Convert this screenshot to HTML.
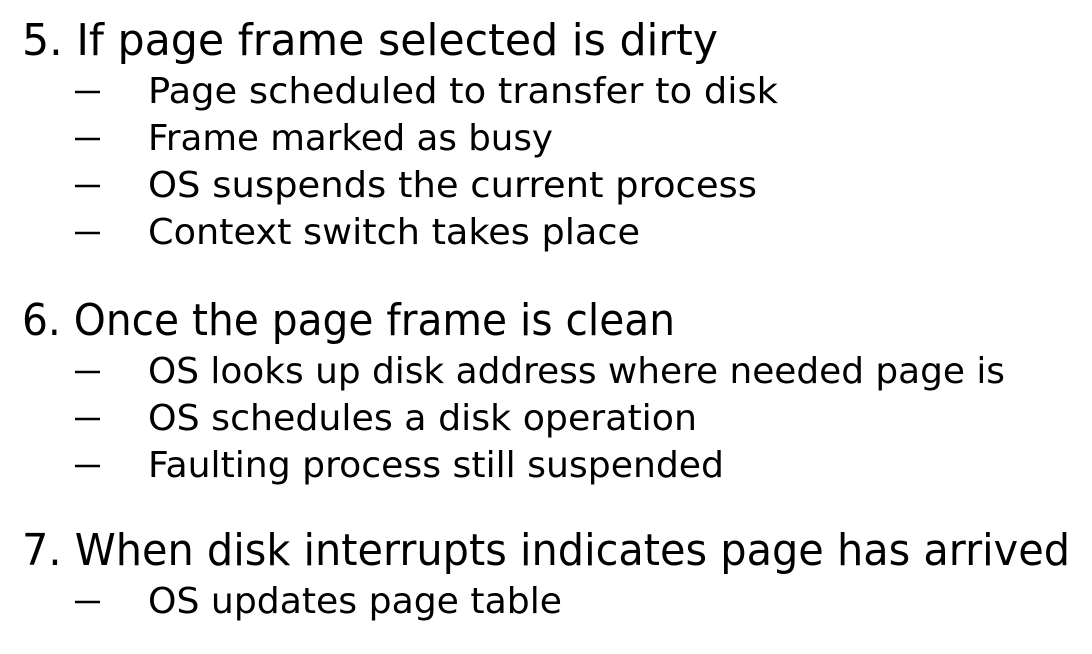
<!DOCTYPE html>
<html><head><meta charset="utf-8"><style>
html,body{margin:0;padding:0;background:#fff;}
svg{display:block;}
text{font-family:"DejaVu Sans","Liberation Sans",sans-serif;fill:#000;}
.h{font-size:44px;}
.s{font-size:36px;}
line{stroke:#000;stroke-width:2.5;}
</style></head><body>
<svg width="1092" height="654" viewBox="0 0 1092 654" xmlns="http://www.w3.org/2000/svg">
<text class="h" x="22" y="55" textLength="696" lengthAdjust="spacingAndGlyphs">5. If page frame selected is dirty</text>
<line x1="75" y1="92" x2="100" y2="92"/>
<text class="s" x="148" y="103" textLength="630" lengthAdjust="spacingAndGlyphs">Page scheduled to transfer to disk</text>
<line x1="75" y1="139" x2="100" y2="139"/>
<text class="s" x="148" y="150" textLength="405" lengthAdjust="spacingAndGlyphs">Frame marked as busy</text>
<line x1="75" y1="186" x2="100" y2="186"/>
<text class="s" x="148" y="197" textLength="609" lengthAdjust="spacingAndGlyphs">OS suspends the current process</text>
<line x1="75" y1="233" x2="100" y2="233"/>
<text class="s" x="148" y="244" textLength="492" lengthAdjust="spacingAndGlyphs">Context switch takes place</text>

<text class="h" x="22" y="335" textLength="653" lengthAdjust="spacingAndGlyphs">6. Once the page frame is clean</text>
<line x1="75" y1="372" x2="100" y2="372"/>
<text class="s" x="148" y="383" textLength="857" lengthAdjust="spacingAndGlyphs">OS looks up disk address where needed page is</text>
<line x1="75" y1="419" x2="100" y2="419"/>
<text class="s" x="148" y="430" textLength="549" lengthAdjust="spacingAndGlyphs">OS schedules a disk operation</text>
<line x1="75" y1="466" x2="100" y2="466"/>
<text class="s" x="148" y="477" textLength="576" lengthAdjust="spacingAndGlyphs">Faulting process still suspended</text>

<text class="h" x="22" y="565" textLength="1048" lengthAdjust="spacingAndGlyphs">7. When disk interrupts indicates page has arrived</text>
<line x1="75" y1="602" x2="100" y2="602"/>
<text class="s" x="148" y="613" textLength="414" lengthAdjust="spacingAndGlyphs">OS updates page table</text>
</svg>
</body></html>
